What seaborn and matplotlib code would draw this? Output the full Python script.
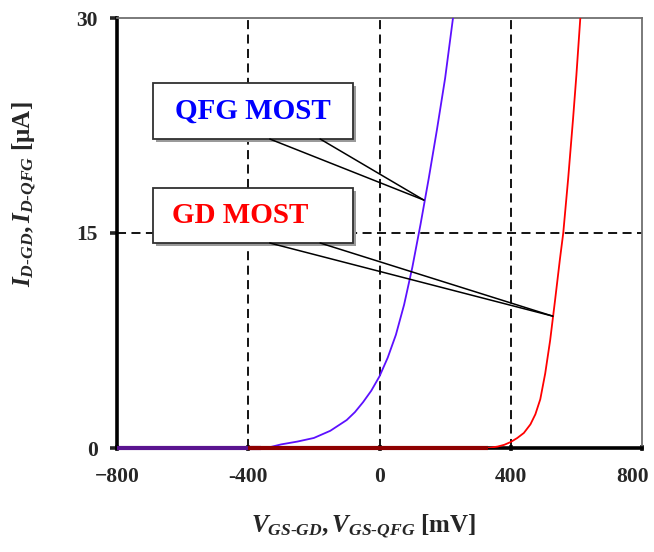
import matplotlib
matplotlib.use("Agg")
import matplotlib.pyplot as plt
import matplotlib.transforms as mtransforms
import seaborn as sns
import pandas as pd
from matplotlib.patches import Rectangle

# QFG MOST: drain current vs gate voltage
v_qfg = [-800, -600, -400, -360, -330, -300, -250, -200, -150, -100, -75, -50, -25,
         0, 25, 50, 75, 100, 125, 150, 175, 200, 224]
i_qfg = [0, 0, 0, 0, 0.08, 0.25, 0.45, 0.7, 1.2, 1.95, 2.5, 3.2, 4.0,
         5.0, 6.3, 7.9, 10.0, 12.6, 15.6, 18.8, 22.2, 25.8, 30.0]

# GD MOST
v_gd = [-400, 0, 300, 330, 360, 380, 400, 420, 440, 460, 475, 490, 505, 520, 535,
        550, 560, 575, 590, 600, 612]
i_gd = [0, 0, 0, 0, 0.1, 0.22, 0.42, 0.7, 1.05, 1.65, 2.35, 3.4, 5.2, 7.5, 10.3,
        13.2, 15.0, 18.8, 23.0, 26.0, 30.0]

x_ticks = [-800, -400, 0, 400, 800]
x_tick_labels = ["\u2212800", "-400", "0", "400", "800"]
y_ticks = [0, 15, 30]
x_grid = [-400, 0, 400]
y_grid = [15]

qfg = pd.DataFrame({"V": v_qfg, "I": i_qfg})
gd = pd.DataFrame({"V": v_gd, "I": i_gd})

sns.set_style("white")
plt.rcParams["font.family"] = ["Liberation Serif", "DejaVu Serif"]
plt.rcParams["mathtext.fontset"] = "custom"
plt.rcParams["mathtext.rm"] = "Liberation Serif:bold"
plt.rcParams["mathtext.it"] = "Liberation Serif:bold:italic"
plt.rcParams["mathtext.bf"] = "Liberation Serif:bold"

fig = plt.figure(figsize=(6.54, 5.52), dpi=100)
ax = fig.add_axes([117 / 654, 104 / 552, 525 / 654, 430 / 552])

for xv in x_grid:
    ax.axvline(xv, color="black", lw=1.3, ls=(0, (5, 3)), zorder=1)
for yv in y_grid:
    ax.axhline(yv, color="black", lw=1.3, ls=(0, (5, 3)), zorder=1)

sns.lineplot(data=qfg, x="V", y="I", color="#5c10ff", lw=1.3, sort=False,
             estimator=None, ax=ax, zorder=3)
sns.lineplot(data=gd, x="V", y="I", color="#ff0000", lw=1.3, sort=False,
             estimator=None, ax=ax, zorder=3)

# dark traces where the curves sit on the axis
qz = qfg[qfg["I"] == 0]
gz = gd[gd["I"] == 0]
ax.plot(qz["V"], qz["I"], color="#5a1490", lw=3, zorder=4, clip_on=False, solid_capstyle="butt")
ax.plot(gz["V"], gz["I"], color="#8e0000", lw=3, zorder=4, clip_on=False, solid_capstyle="butt")

ax.set_xlim(-800, 800)
ax.set_ylim(0, 30)
ax.set_xticks(x_ticks)
ax.set_yticks(y_ticks)
ax.set_xticklabels(x_tick_labels)

for s in ["left", "bottom"]:
    ax.spines[s].set_color("black")
    ax.spines[s].set_linewidth(2.6)
for s in ["top", "right"]:
    ax.spines[s].set_color("#707070")
    ax.spines[s].set_linewidth(1.3)

ax.tick_params(axis="y", direction="out", length=5, width=2.6, pad=9, labelsize=15.5, left=True)
ax.tick_params(axis="x", direction="inout", length=5, width=2.6, pad=11, labelsize=15.5, bottom=True)
for lab in ax.get_xticklabels() + ax.get_yticklabels():
    lab.set_fontweight("bold")
# last x label sits a little to the left in the original
last = ax.get_xticklabels()[-1]
last.set_transform(last.get_transform() + mtransforms.ScaledTranslation(-7 / 72, 0, fig.dpi_scale_trans))

ax.set_xlabel(r"$V_{GS\text{-}GD}, V_{GS\text{-}QFG}$ [mV]", fontsize=18, fontweight="bold")
ax.set_ylabel(r"$I_{D\text{-}GD}, I_{D\text{-}QFG}$ [$\mathrm{\mu}$A]", fontsize=18, fontweight="bold")
ax.xaxis.set_label_coords(0.47, -0.15)
ax.yaxis.set_label_coords(-0.15, 0.59)

# callout boxes
boxes = [
    ("QFG MOST", "#0000ff", 0.849, 0.7186, (135, 17.3), "center"),
    ("GD MOST", "#ff0000", 0.6047, 0.4767, (528, 9.2), "left"),
]
for label, col, ytop, ybot, target, ha in boxes:
    x0, x1 = 0.0686, 0.4495
    shadow = Rectangle((x0 + 0.006, ybot - 0.007), x1 - x0, ytop - ybot, transform=ax.transAxes,
                       facecolor="#9a9a9a", edgecolor="none", zorder=5)
    box = Rectangle((x0, ybot), x1 - x0, ytop - ybot, transform=ax.transAxes,
                    facecolor="white", edgecolor="#303030", lw=1.3, zorder=6)
    ax.add_patch(shadow)
    ax.add_patch(box)
    tx = (x0 + x1) / 2 if ha == "center" else 0.105
    ax.text(tx, (ytop + ybot) / 2, label, transform=ax.transAxes, ha=ha, va="center",
            color=col, fontsize=21, fontweight="bold", zorder=7)
    tpx = ax.transAxes.inverted().transform(ax.transData.transform(target))
    for sx in [0.291, 0.387]:
        ax.plot([sx, tpx[0]], [ybot, tpx[1]], transform=ax.transAxes, color="black",
                lw=1.1, zorder=6, clip_on=False)

fig.savefig("out.png", dpi=100)
